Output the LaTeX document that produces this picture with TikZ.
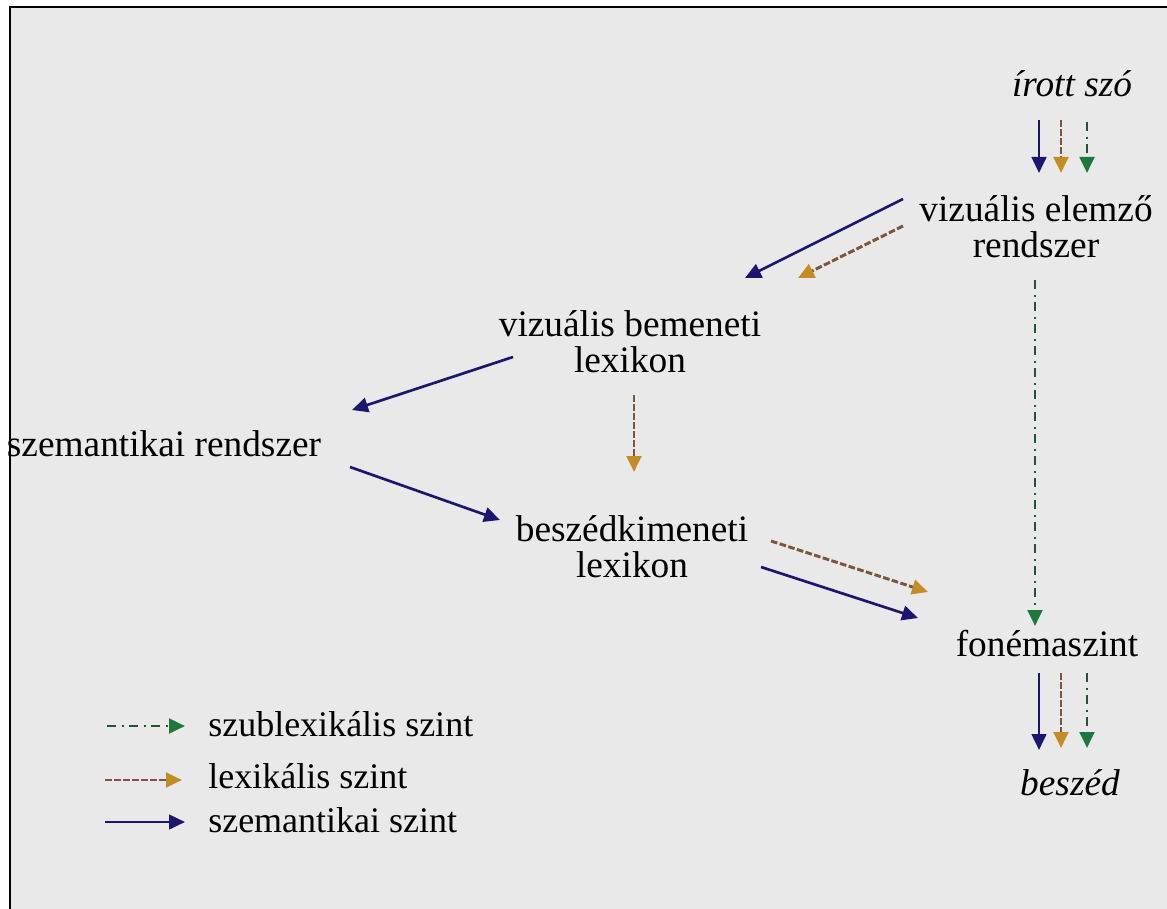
\documentclass[tikz,border=0pt]{standalone}
\usepackage{fontspec}
\setmainfont{Liberation Serif}
\usetikzlibrary{arrows.meta}
\definecolor{bgc}{RGB}{233,233,233}
\definecolor{semc}{RGB}{28,22,110}
\definecolor{lexc}{RGB}{125,85,60}
\definecolor{lextip}{RGB}{196,140,36}
\definecolor{subc}{RGB}{35,85,50}
\definecolor{subtip}{RGB}{30,120,60}
\begin{document}
\begin{tikzpicture}[x=0.75pt,y=-0.75pt,
 lbl/.style={font=\fontsize{28}{27}\selectfont, align=center, inner sep=0pt, text=black},
 leg/.style={font=\fontsize{27}{27}\selectfont, anchor=west, inner sep=0pt, text=black},
 sem/.style={draw=semc, line width=2pt, -{Triangle[length=12pt,width=11pt,color=semc,fill=semc]}},
 lex/.style={draw=lexc, line width=2.2pt, dash pattern=on 5pt off 1.8pt, -{Triangle[length=12pt,width=11pt,color=lextip,fill=lextip]}},
 sub/.style={draw=subc, line width=2.2pt, dash pattern=on 7pt off 4pt on 1.5pt off 4pt, -{Triangle[length=12pt,width=11pt,color=subtip,fill=subtip]}}]
\useasboundingbox (0,0) rectangle (1167,909);
\fill[white] (0,0) rectangle (1167,909);
\fill[bgc] (10,8) rectangle (1167,909);
\draw[black, line width=1.5pt] (9.5,909) -- (9.5,7.5) -- (1167,7.5);

% nodes
\node[lbl] (iro) at (1072,84) {\itshape írott szó};
\node[lbl] (vis) at (1036,227) {vizuális elemző\\rendszer};
\node[lbl] (vbl) at (630,342) {vizuális bemeneti\\lexikon};
\node[lbl] (sem) at (164,444) {szemantikai rendszer};
\node[lbl] (bkl) at (632,547) {beszédkimeneti\\lexikon};
\node[lbl] (fon) at (1047,644) {fonémaszint};
\node[lbl] (bes) at (1070,783) {\itshape beszéd};

% connector endpoints
\coordinate (a1s) at (1039,120); \coordinate (a1e) at (1039,173);
\coordinate (a2s) at (1061,120); \coordinate (a2e) at (1061,173);
\coordinate (a3s) at (1087,122); \coordinate (a3e) at (1087,173);
\coordinate (b1s) at (903,199); \coordinate (b1e) at (745,278);
\coordinate (b2s) at (903,226); \coordinate (b2e) at (798,278);
\coordinate (c1s) at (513,357); \coordinate (c1e) at (352,410);
\coordinate (c2s) at (634,395); \coordinate (c2e) at (634,472);
\coordinate (d1s) at (350,467); \coordinate (d1e) at (500,520);
\coordinate (e1s) at (771,541); \coordinate (e1e) at (928,592);
\coordinate (e2s) at (761,567); \coordinate (e2e) at (918,618);
\coordinate (g1s) at (1035,280); \coordinate (g1e) at (1035,626);
\coordinate (f1s) at (1039,673); \coordinate (f1e) at (1039,750);
\coordinate (f2s) at (1061,673); \coordinate (f2e) at (1061,748);
\coordinate (f3s) at (1087,673); \coordinate (f3e) at (1087,748);

\draw[sem] (a1s) -- (a1e);
\draw[lex] (a2s) -- (a2e);
\draw[sub] (a3s) -- (a3e);
\draw[sem] (b1s) -- (b1e);
\draw[lex] (b2s) -- (b2e);
\draw[sem] (c1s) -- (c1e);
\draw[lex] (c2s) -- (c2e);
\draw[sem] (d1s) -- (d1e);
\draw[lex] (e1s) -- (e1e);
\draw[sem] (e2s) -- (e2e);
\draw[sub] (g1s) -- (g1e);
\draw[sem] (f1s) -- (f1e);
\draw[lex] (f2s) -- (f2e);
\draw[sub] (f3s) -- (f3e);

% legend
\coordinate (l1s) at (107,726); \coordinate (l1e) at (185,726);
\coordinate (l2s) at (105,780); \coordinate (l2e) at (182,780);
\coordinate (l3s) at (105,822); \coordinate (l3e) at (185,822);
\draw[sub] (l1s) -- (l1e);
\draw[lex] (l2s) -- (l2e);
\draw[sem] (l3s) -- (l3e);
\node[leg] (t1) at (208,724) {szublexikális szint};
\node[leg] (t2) at (208,776) {lexikális szint};
\node[leg] (t3) at (208,820) {szemantikai szint};
\end{tikzpicture}
\end{document}
